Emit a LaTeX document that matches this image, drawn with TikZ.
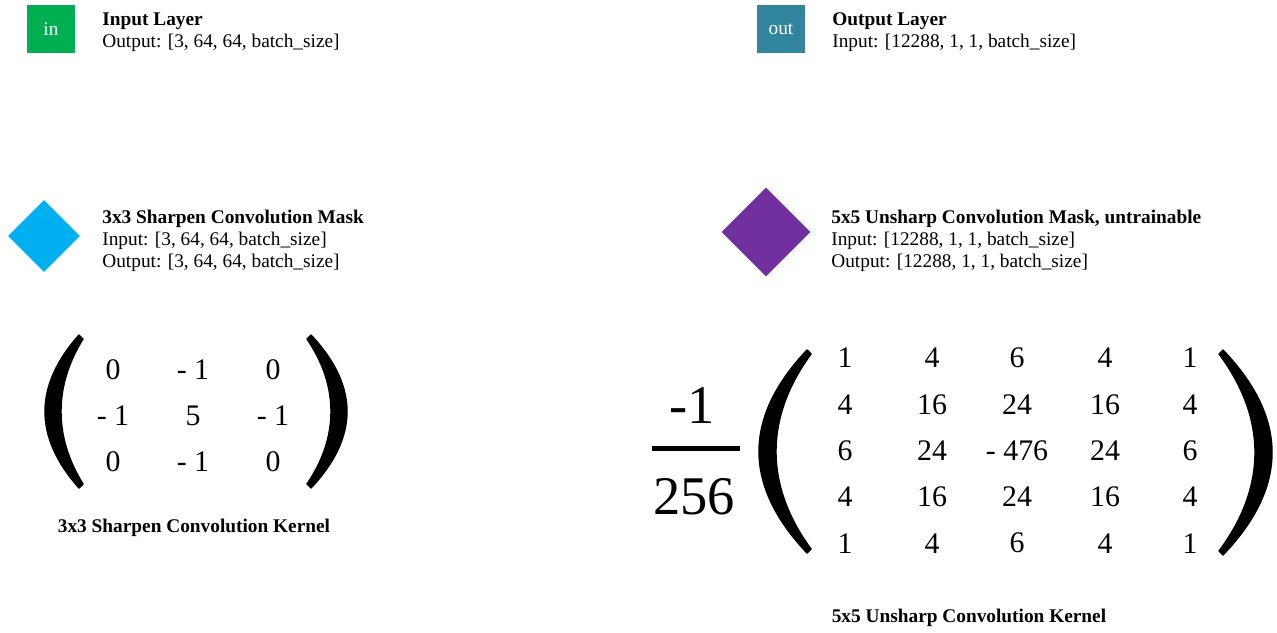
\documentclass[tikz,border=0pt]{standalone}
\usepackage{fontspec}
\setmainfont{Liberation Serif}
\usetikzlibrary{shapes.geometric}

\definecolor{ingreen}{HTML}{00B050}
\definecolor{outteal}{HTML}{31859C}
\definecolor{sharpblue}{HTML}{00B0F0}
\definecolor{unsharppurple}{HTML}{7030A0}

\tikzset{
  layerbox/.style={minimum size=0.96cm, inner sep=0, text=white, font=\fontsize{11}{13}\selectfont},
  maskshape/.style={diamond, inner sep=0, minimum width=#1, minimum height=#1},
  legendtitle/.style={anchor=base west, inner sep=0, font=\bfseries\fontsize{11}{13}\selectfont},
  legendline/.style={anchor=base west, inner sep=0, font=\fontsize{11}{13}\selectfont},
  entry/.style={inner sep=0, font=\fontsize{17}{20}\selectfont},
  bigentry/.style={inner sep=0, font=\fontsize{31}{36}\selectfont},
  kerncaption/.style={anchor=base, inner sep=0, font=\bfseries\fontsize{11}{13}\selectfont},
  paren/.style={fill=black, draw=black, line width=0.8pt, line join=round},
  fracbar/.style={line width=0.1cm}
}

% #1 outer tip x, #2 outer bulge x, #3 inner tip x, #4 inner bulge x, #5 top, #6 bottom
\newcommand{\kernparen}[6]{%
  \filldraw[paren] (#1,#5)
    .. controls ({#1+4/3*(#2-#1)},{#5+(#6-#5)/3}) and ({#1+4/3*(#2-#1)},{#6-(#6-#5)/3}) .. (#1,#6)
    -- (#3,{#6-4})
    .. controls ({#3+4/3*(#4-#3)},{#6-(#6-#5)/3}) and ({#3+4/3*(#4-#3)},{#5+(#6-#5)/3}) .. (#3,{#5+4})
    -- cycle;}

\begin{document}
\begin{tikzpicture}[x=0.02cm,y=-0.02cm]
  \useasboundingbox (0,0) rectangle (1277,632);

  % legend, top row
  \node[layerbox, fill=ingreen] (inBox) at (51,29) {in};
  \node[legendtitle] (inTitle) at (102,26) {Input Layer};
  \node[legendline] (inOut) at (102,47) {Output: [3, 64, 64, batch\_size]};

  \node[layerbox, fill=outteal] (outBox) at (781,29) {out};
  \node[legendtitle] (outTitle) at (832,26) {Output Layer};
  \node[legendline] (outIn) at (832,47) {Input: [12288, 1, 1, batch\_size]};

  % legend, masks
  \node[maskshape=1.44cm, fill=sharpblue] (sharpShape) at (44,236) {};
  \node[legendtitle] (sharpTitle) at (102,223) {3x3 Sharpen Convolution Mask};
  \node[legendline] (sharpIn) at (102,245) {Input: [3, 64, 64, batch\_size]};
  \node[legendline] (sharpOut) at (102,267) {Output: [3, 64, 64, batch\_size]};

  \node[maskshape=1.78cm, fill=unsharppurple] (unsharpShape) at (766,232) {};
  \node[legendtitle] (unsharpTitle) at (831,223) {5x5 Unsharp Convolution Mask, untrainable};
  \node[legendline] (unsharpIn) at (831,245) {Input: [12288, 1, 1, batch\_size]};
  \node[legendline] (unsharpOut) at (831,267) {Output: [12288, 1, 1, batch\_size]};

  % 3x3 kernel
  \foreach \ka/\kb/\kc [count=\r] in {0/- 1/0, - 1/5/- 1, 0/- 1/0}{
    \node[entry] (s\r-1) at (113,{370+(\r-1)*46}) {\ka};
    \node[entry] (s\r-2) at (193,{370+(\r-1)*46}) {\kb};
    \node[entry] (s\r-3) at (273,{370+(\r-1)*46}) {\kc};
  }
  \kernparen{79}{45}{83}{61}{335}{488}
  \kernparen{311}{347}{307}{331}{335}{488}
  \node[kerncaption] (sharpKernel) at (194,532) {3x3 Sharpen Convolution Kernel};

  % 5x5 kernel
  \node[bigentry] (fracNum) at (692,406) {-1};
  \node[bigentry] (fracDen) at (694,497) {256};
  \draw[fracbar] (652,448) -- (740,448);
  \foreach \ka/\kb/\kc/\kd/\ke [count=\r] in {1/4/6/4/1, 4/16/24/16/4, 6/24/- 476/24/6, 4/16/24/16/4, 1/4/6/4/1}{
    \node[entry] (u\r-1) at (845,{358+(\r-1)*46.3}) {\ka};
    \node[entry] (u\r-2) at (932,{358+(\r-1)*46.3}) {\kb};
    \node[entry] (u\r-3) at (1017,{358+(\r-1)*46.3}) {\kc};
    \node[entry] (u\r-4) at (1105,{358+(\r-1)*46.3}) {\kd};
    \node[entry] (u\r-5) at (1190,{358+(\r-1)*46.3}) {\ke};
  }
  \kernparen{807}{759}{811}{776}{350}{553}
  \kernparen{1223}{1272}{1219}{1255}{350}{555}
  \node[kerncaption] (unsharpKernel) at (969,622) {5x5 Unsharp Convolution Kernel};
\end{tikzpicture}
\end{document}
